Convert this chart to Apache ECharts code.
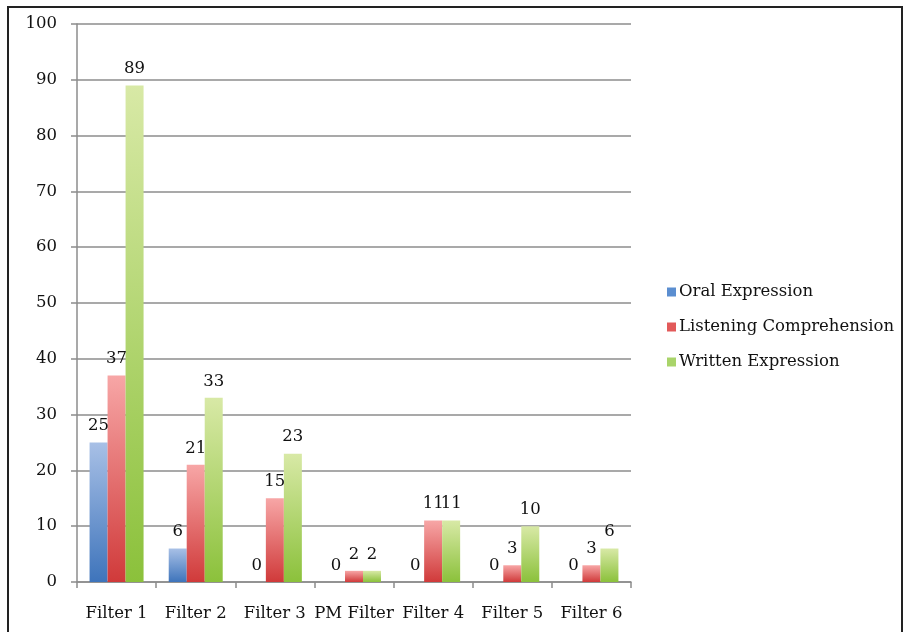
<!DOCTYPE html>
<html>
<head>
<meta charset="utf-8">
<script src="https://cdn.jsdelivr.net/npm/echarts@6/dist/echarts.min.js"></script>
<style>
  html, body { margin: 0; padding: 0; background: #fff; }
  #chart { width: 904px; height: 632px; }
</style>
</head>
<body>
<div id="chart"></div>
<script>
const categories = ['Filter 1', 'Filter 2', 'Filter 3', 'PM Filter', 'Filter 4', 'Filter 5', 'Filter 6'];
const oralExpression = [25, 6, 0, 0, 0, 0, 0];
const listeningComprehension = [37, 21, 15, 2, 11, 3, 3];
const writtenExpression = [89, 33, 23, 2, 11, 10, 6];
const yTicks = { min: 0, max: 100, interval: 10 };

const FONT = 'DejaVu Serif';
const TEXT = '#111';
const FS = 16.5;

function grad(top, bottom) {
  return new echarts.graphic.LinearGradient(0, 0, 0, 1, [
    { offset: 0, color: top },
    { offset: 1, color: bottom }
  ]);
}

function barSeries(name, data, top, bottom) {
  return {
    name: name,
    type: 'bar',
    data: data,
    barWidth: 18,
    barGap: '0%',
    itemStyle: { color: grad(top, bottom) },
    label: {
      show: true,
      position: 'top',
      distance: 8,
      fontFamily: FONT,
      fontSize: FS,
      color: TEXT
    }
  };
}

const chart = echarts.init(document.getElementById('chart'));
chart.setOption({
  animation: false,
  backgroundColor: '#fff',
  color: ['#4f81bd', '#e05555', '#9bcc50'],
  graphic: [{
    type: 'rect',
    shape: { x: 8, y: 7, width: 894, height: 700 },
    style: { fill: 'none', stroke: '#222', lineWidth: 2 }
  }],
  grid: { left: 77, right: 273, top: 24, bottom: 50 },
  legend: {
    orient: 'vertical',
    left: 662,
    top: 277,
    itemWidth: 9,
    itemHeight: 9,
    itemGap: 15,
    icon: 'rect',
    textStyle: { fontFamily: FONT, fontSize: FS, color: TEXT, lineHeight: 20, padding: [0, 0, 0, -2] },
    data: [
      { name: 'Oral Expression', itemStyle: { color: '#5b8ed0' } },
      { name: 'Listening Comprehension', itemStyle: { color: '#e25a5a' } },
      { name: 'Written Expression', itemStyle: { color: '#a9d46a' } }
    ]
  },
  xAxis: {
    type: 'category',
    data: categories,
    axisLine: { lineStyle: { color: '#8c8c8c', width: 1.5 } },
    axisTick: { show: true, length: 6, lineStyle: { color: '#8c8c8c', width: 1.5 } },
    axisLabel: { interval: 0, fontFamily: FONT, fontSize: FS, color: TEXT, margin: 23 }
  },
  yAxis: {
    type: 'value',
    min: yTicks.min,
    max: yTicks.max,
    interval: yTicks.interval,
    axisLine: { show: true, lineStyle: { color: '#8c8c8c', width: 1.5 } },
    axisTick: { show: true, length: 6, lineStyle: { color: '#8c8c8c', width: 1.5 } },
    splitLine: { lineStyle: { color: '#8c8c8c', width: 1.5 } },
    axisLabel: { fontFamily: FONT, fontSize: FS, color: TEXT, margin: 20 }
  },
  series: [
    barSeries('Oral Expression', oralExpression, '#a8c0e6', '#3e74bb'),
    barSeries('Listening Comprehension', listeningComprehension, '#f7a6a6', '#d03a3a'),
    barSeries('Written Expression', writtenExpression, '#d8e9a6', '#8bc13b')
  ]
});
</script>
</body>
</html>
